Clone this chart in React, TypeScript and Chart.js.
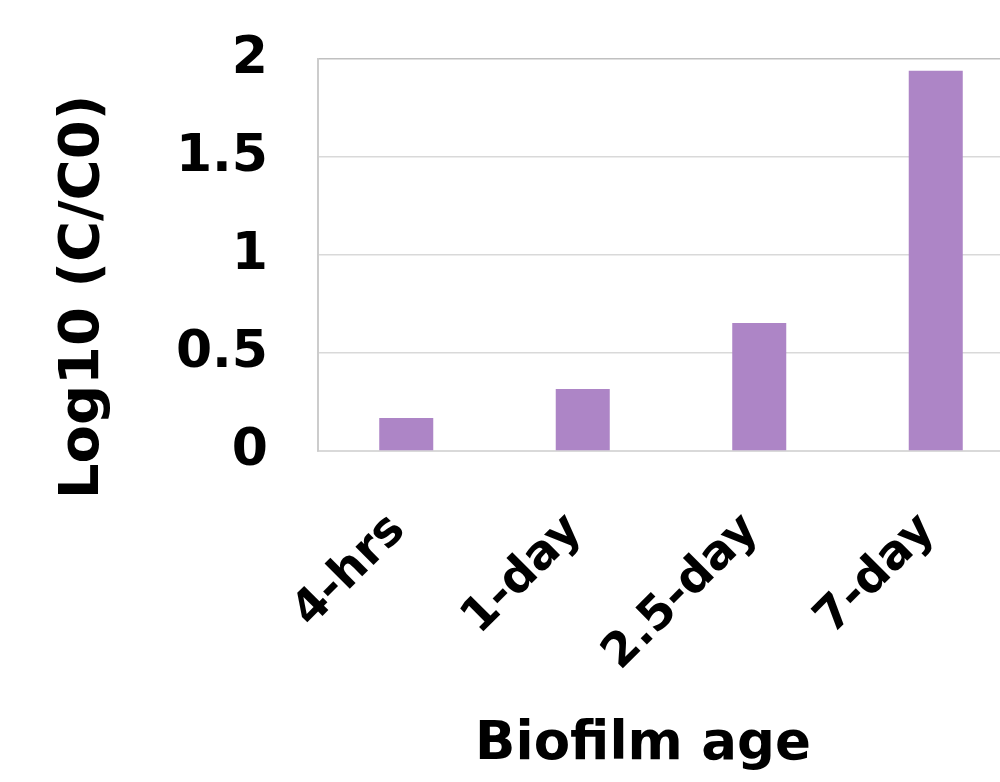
import React, { useEffect, useRef } from "react";
import { Chart, registerables } from "chart.js";

Chart.register(...registerables);

const categories = ["4-hrs", "1-day", "2.5-day", "7-day"];
const logValues = [0.168, 0.316, 0.653, 1.94];
const yTicks = [0, 0.5, 1, 1.5, 2];
const xTitle = "Biofilm age";
const yTitle = "Log10 (C/C0)";

const FONT = "'DejaVu Sans', Verdana, sans-serif";

const titlePlugin = {
  id: "axisTitles",
  afterDraw(chart: any) {
    const { ctx } = chart;
    ctx.save();
    ctx.fillStyle = "#000";
    ctx.textAlign = "center";
    ctx.textBaseline = "middle";
    ctx.font = `bold 53px ${FONT}`;
    ctx.fillText(xTitle, 643, 745);
    ctx.font = `bold 56px ${FONT}`;
    ctx.translate(83, 297);
    ctx.rotate(-Math.PI / 2);
    ctx.fillText(yTitle, 0, 0);
    ctx.restore();
  },
};

export default function App() {
  const ref = useRef<HTMLCanvasElement | null>(null);
  useEffect(() => {
    if (!ref.current) return;
    const chart = new Chart(ref.current, {
      type: "bar",
      data: {
        labels: categories,
        datasets: [
          {
            data: logValues,
            backgroundColor: "#ad85c6",
            borderWidth: 0,
            barPercentage: 0.306,
            categoryPercentage: 1,
          },
        ],
      },
      options: {
        responsive: false,
        animation: false,
        layout: { padding: { left: 150, top: 59, right: 6, bottom: 10 } },
        plugins: { legend: { display: false }, tooltip: { enabled: false } },
        scales: {
          x: {
            grid: { display: false, drawTicks: false },
            border: { display: true, color: "#d9d9d9", width: 2 },
            ticks: {
              color: "#000",
              font: { family: FONT, size: 47, weight: "bold" },
              maxRotation: 45,
              minRotation: 45,
              padding: 52,
              labelOffset: -8,
            },
            afterFit(scale: any) {
              scale.height = 782 - 451 - 10;
              scale.paddingLeft = 0;
              scale.paddingRight = 0;
            },
          },
          y: {
            min: 0,
            max: 2,
            afterBuildTicks(scale: any) {
              scale.ticks = yTicks.map((v) => ({ value: v }));
            },
            grid: {
              drawTicks: false,
              color: (c: any) => (c.tick && c.tick.value === 2 ? "#c0c0c0" : "#d9d9d9"),
              lineWidth: 1.5,
            },
            border: { display: true, color: "#cccccc", width: 2 },
            ticks: {
              color: "#000",
              font: { family: FONT, size: 52, weight: "bold" },
              padding: 50,
              callback: (v: any) => String(v),
            },
            afterFit(scale: any) {
              scale.width = 318 - 150;
              scale.paddingTop = 0;
              scale.paddingBottom = 0;
            },
          },
        },
      },
      plugins: [titlePlugin],
    });
    return () => chart.destroy();
  }, []);
  return (
    <div
      style={{
        position: "absolute",
        left: 0,
        top: 0,
        width: 1000,
        height: 782,
        overflow: "hidden",
        background: "#fff",
      }}
    >
      <canvas ref={ref} width={1030} height={782} style={{ display: "block" }} />
    </div>
  );
}
